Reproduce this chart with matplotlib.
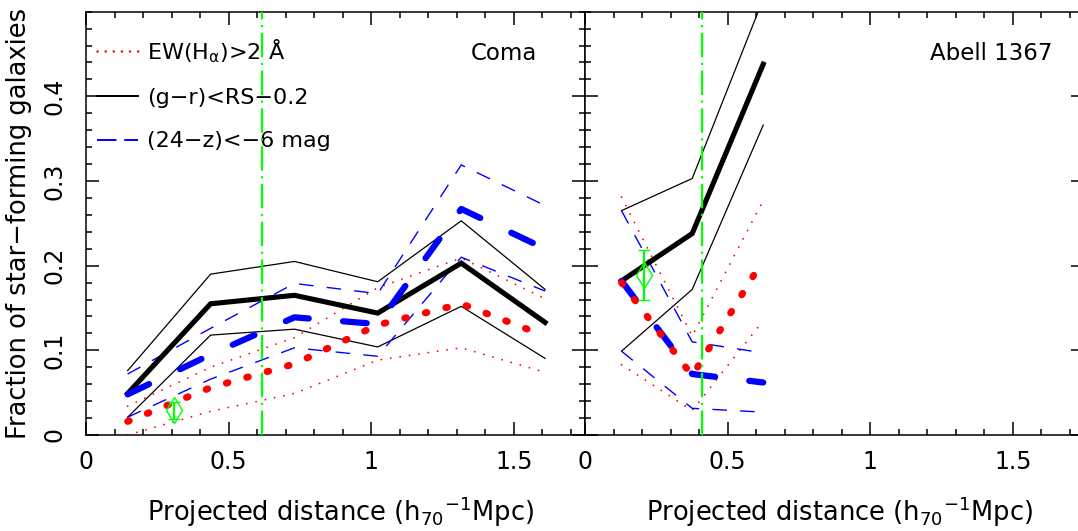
import matplotlib
matplotlib.use("Agg")
import matplotlib.pyplot as plt
from matplotlib.lines import Line2D
from matplotlib.ticker import MultipleLocator, FuncFormatter

plt.rcParams['font.family'] = ['DejaVu Sans']
plt.rcParams['mathtext.default'] = 'regular'

# Coma: radial bins and fractions (central value, upper and lower bounds)
coma_r = [0.146, 0.437, 0.731, 1.023, 1.316, 1.61]
coma_ha = [0.016, 0.056, 0.084, 0.130, 0.155, 0.117]
coma_ha_hi = [0.034, 0.080, 0.115, 0.174, 0.209, 0.161]
coma_ha_lo = [0.000, 0.028, 0.049, 0.0885, 0.103, 0.074]
coma_gr = [0.049, 0.155, 0.165, 0.144, 0.203, 0.133]
coma_gr_hi = [0.076, 0.190, 0.205, 0.181, 0.253, 0.172]
coma_gr_lo = [0.021, 0.118, 0.125, 0.104, 0.152, 0.0905]
coma_mir = [0.048, 0.095, 0.139, 0.131, 0.267, 0.220]
coma_mir_hi = [0.072, 0.126, 0.179, 0.167, 0.319, 0.271]
coma_mir_lo = [0.021, 0.066, 0.103, 0.093, 0.210, 0.170]
coma_r200 = 0.618
coma_err_x, coma_err_y, coma_err = 0.309, 0.029, 0.0105

# Abell 1367
a1367_r = [0.128, 0.376, 0.625]
a1367_ha = [0.180, 0.070, 0.207]
a1367_ha_hi = [0.281, 0.117, 0.277]
a1367_ha_lo = [0.083, 0.029, 0.135]
a1367_gr = [0.182, 0.238, 0.438]
a1367_gr_hi = [0.265, 0.303, 0.515]
a1367_gr_lo = [0.099, 0.172, 0.366]
a1367_mir = [0.182, 0.072, 0.062]
a1367_mir_hi = [0.265, 0.110, 0.097]
a1367_mir_lo = [0.099, 0.0315, 0.027]
a1367_r200 = 0.41
a1367_err_x, a1367_err_y, a1367_err = 0.207, 0.189, 0.030

panels = [
    ("Coma", coma_r, coma_ha, coma_ha_hi, coma_ha_lo, coma_gr, coma_gr_hi, coma_gr_lo,
     coma_mir, coma_mir_hi, coma_mir_lo, coma_r200, coma_err_x, coma_err_y, coma_err),
    ("Abell 1367", a1367_r, a1367_ha, a1367_ha_hi, a1367_ha_lo, a1367_gr, a1367_gr_hi, a1367_gr_lo,
     a1367_mir, a1367_mir_hi, a1367_mir_lo, a1367_r200, a1367_err_x, a1367_err_y, a1367_err),
]

RED, BLUE, GREEN = '#ff0000', '#0000ff', '#00ff00'
W, H = 1078, 531
fig = plt.figure(figsize=(W / 100, H / 100), dpi=100)
ax_w = 499 / W
ax_h = (435 - 11.7) / H
ax_b = (H - 435) / H
axes = [fig.add_axes([86 / W, ax_b, ax_w, ax_h]),
        fig.add_axes([585 / W, ax_b, ax_w, ax_h])]

for i, (ax, p) in enumerate(zip(axes, panels)):
    (name, r, ha, ha_hi, ha_lo, gr, gr_hi, gr_lo,
     mir, mir_hi, mir_lo, r200, ex, ey, ee) = p

    # thin bounds
    for yy in (ha_hi, ha_lo):
        ax.plot(r, yy, color=RED, lw=1.3, linestyle=(0, (0.05, 5.2)),
                dash_capstyle='round', zorder=2)
    for yy in (gr_hi, gr_lo):
        ax.plot(r, yy, color='black', lw=0.9, zorder=3)
    for yy in (mir_hi, mir_lo):
        ax.plot(r, yy, color=BLUE, lw=1.0, linestyle=(0, (10.5, 9.5)), zorder=3)

    # central values
    ax.plot(r, gr, color='black', lw=3.7, solid_joinstyle='miter', zorder=4)
    ax.plot(r, mir, color=BLUE, lw=4.5, linestyle=(0, (3.8, 5.5)),
            dash_capstyle='round', zorder=5)
    ax.plot(r, ha, color=RED, lw=5.0, linestyle=(0, (0.25, 2.8)),
            dash_capstyle='round', zorder=6)

    # R200 and typical error
    ax.axvline(r200, color=GREEN, lw=1.6, linestyle=(0, (11, 2.5, 1, 2.5)), zorder=7)
    ax.errorbar([ex], [ey], yerr=[ee], fmt='d', color=GREEN, mfc='none', mec=GREEN,
                ms=13, mew=1.0, elinewidth=1.6, capsize=4, capthick=1.6, zorder=7)

    ax.set_xlim(0, 1.75)
    ax.set_ylim(0, 0.5)
    ax.xaxis.set_major_locator(MultipleLocator(0.5))
    ax.xaxis.set_minor_locator(MultipleLocator(0.1))
    ax.set_yticks([0, 0.1, 0.2, 0.3, 0.4])
    ax.yaxis.set_minor_locator(MultipleLocator(0.02))
    ax.xaxis.set_major_formatter(FuncFormatter(lambda v, pos: '%g' % v))
    ax.yaxis.set_major_formatter(FuncFormatter(lambda v, pos: '%g' % v))
    ax.tick_params(which='both', direction='in', top=True, right=True, width=1.1,
                   labelsize=17)
    ax.tick_params(which='major', length=9.4)
    ax.tick_params(which='minor', length=4.3)
    ax.tick_params(axis='x', pad=11)
    ax.tick_params(axis='y', pad=14, labelrotation=90)
    for lab in ax.get_yticklabels():
        lab.set_va('center')
    for s in ax.spines.values():
        s.set_linewidth(1.1)

    ax.set_xlabel('Projected distance (h$_{70}{}^{-1}$Mpc)', fontsize=18.5)
    ax.xaxis.set_label_coords(0.51, -0.14)
    ax.text(0.904 if i == 0 else 0.936, 0.902, name, transform=ax.transAxes,
            ha='right', va='center', fontsize=16.5)

axes[1].tick_params(axis='y', labelleft=False)
axes[0].set_ylabel('Fraction of star\u2212forming galaxies', fontsize=18.5)
axes[0].yaxis.set_label_coords(-0.108, 0.5)

handles = [
    Line2D([], [], color=RED, lw=1.8, linestyle=(0, (0.05, 3.2)), dash_capstyle='round'),
    Line2D([], [], color='black', lw=1.4),
    Line2D([], [], color=BLUE, lw=1.4, linestyle=(0, (10, 4))),
]
labels = ['EW(H$_{\\alpha}$)>2 \u00c5', '(g\u2212r)<RS\u22120.2', '(24\u2212z)<\u22126 mag']
axes[0].legend(handles, labels, loc='upper left', bbox_to_anchor=(0.022, 0.94),
               frameon=False, fontsize=16, handlelength=1.85, handletextpad=0.4,
               labelspacing=1.05, borderpad=0, borderaxespad=0)

fig.savefig('out.png', dpi=100)
